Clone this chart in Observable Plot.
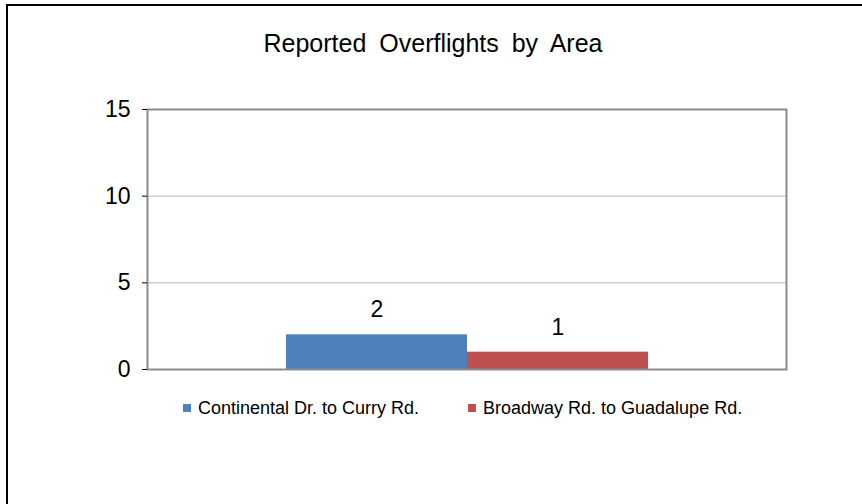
<!DOCTYPE html>
<html><head><meta charset="utf-8">
<script src="https://cdn.jsdelivr.net/npm/d3@7"></script>
<script src="https://cdn.jsdelivr.net/npm/@observablehq/plot@0.6"></script>
<style>
html,body{margin:0;padding:0;background:#fff;}
#wrap{position:relative;width:862px;height:504px;overflow:hidden;font-family:"Liberation Sans",Arial,sans-serif;}
#border{position:absolute;left:6px;top:4px;width:900px;height:600px;border-top:2px solid #000;border-left:2px solid #000;}
#title{position:absolute;left:2px;width:862px;top:29px;text-align:center;font-size:25px;color:#000;word-spacing:6px;line-height:29px;}
#chart{position:absolute;left:0;top:0;}
#legend{position:absolute;top:397px;left:0;font-size:18px;color:#000;}
.item{position:absolute;white-space:nowrap;display:flex;align-items:center;line-height:22px;}
.sw{display:inline-block;width:8px;height:8px;margin-right:7px;}
</style></head>
<body><div id="wrap"><div id="border"></div><div id="chart"></div><div id="title">Reported Overflights by Area</div><div id="legend"></div></div>
<script>
const series = ["Continental Dr. to Curry Rd.", "Broadway Rd. to Guadalupe Rd."];
const values = [2, 1];
const colors = ["#4F81BD", "#C0504D"];
const yTicks = [0, 5, 10, 15];
const gridTicks = [5, 10];

const data = series.map((s, i) => ({series: s, value: values[i]}));

const chart = Plot.plot({
  width: 862, height: 504,
  marginLeft: 147, marginRight: 76, marginTop: 109, marginBottom: 135,
  style: {fontFamily: '"Liberation Sans", Arial, sans-serif', fontSize: "23px", background: "transparent", overflow: "visible"},
  x: {domain: series, paddingInner: 0, paddingOuter: 0.76, axis: null},
  y: {domain: [0, 15]},
  color: {domain: series, range: colors},
  marks: [
    Plot.ruleY(gridTicks, {stroke: "#b3b3b3", strokeWidth: 1}),
    Plot.barY(data, {x: "series", y: "value", fill: "series"}),
    Plot.text(data, {x: "series", y: "value", text: d => String(d.value), dy: -25, fontSize: 23, fill: "#000"}),
    Plot.frame({stroke: "#8c8c8c", strokeWidth: 2}),
    Plot.ruleX([0], {frameAnchor: "left", y1: 0, y2: 15, stroke: "#000", strokeWidth: 1.5}),
    Plot.axisY(yTicks, {tickSize: 5, tickPadding: 12, fontSize: 23, stroke: "#000", fill: "#000", label: null})
  ]
});
document.getElementById("chart").appendChild(chart);

const legend = document.getElementById("legend");
const lx = [183, 468];
series.forEach((s, i) => {
  const d = document.createElement("div");
  d.className = "item";
  d.style.left = lx[i] + "px";
  d.innerHTML = `<span class="sw" style="background:${colors[i]}"></span><span>${s}</span>`;
  legend.appendChild(d);
});
</script></body></html>
